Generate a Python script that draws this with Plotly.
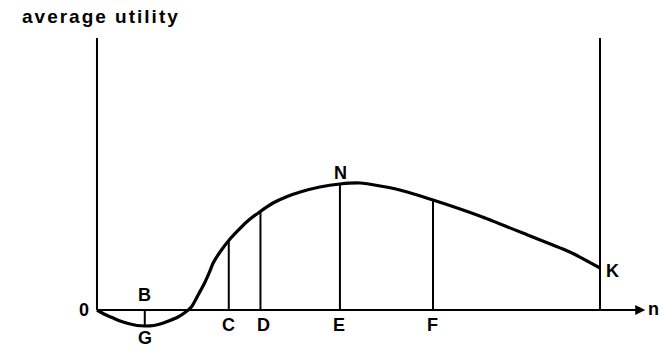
import plotly.graph_objects as go

# ---- data (arbitrary units: n along x, average utility along y) ----
curve_n = [0, 1.6, 3.0, 4.6, 6.2, 8.0, 9.5, 11.3, 12.9, 14.5, 16.1, 17.5, 18.8, 20.1,
           21.4, 22.4, 23.1, 24.5, 26.2, 27.8, 29.8, 32.4, 35.0, 37.7, 40.4, 44.3, 48.3,
           52.3, 56.3, 60.2, 66.8, 76.1, 86.1, 94.0, 100]
curve_u = [0, -1.65, -2.76, -4.04, -4.96, -5.70, -5.88, -5.70, -4.96, -3.86, -2.57,
           -0.92, 1.21, 5.51, 9.93, 14.08, 17.28, 21.43, 25.55, 28.79, 32.46, 36.14,
           39.34, 41.65, 43.38, 45.22, 46.32, 46.69, 45.59, 44.12, 40.44, 34.56, 27.21,
           21.32, 15.44]

drop_labels = ["G", "C", "D", "E", "F"]
drop_n = [9.5, 26.2, 32.5, 48.3, 66.8]
drop_u = [-5.88, 25.55, 36.3, 46.3, 40.44]

axis_top = 100
n_end = 100      # K boundary
arrow_end = 109

W, H = 660, 351

fig = go.Figure()

# vertical axes (left: utility axis, right: boundary at K)
fig.add_trace(go.Scatter(x=[0, 0, None, n_end, n_end], y=[0, axis_top, None, 0, axis_top],
                         mode="lines", line=dict(color="black", width=2), hoverinfo="skip"))
# horizontal n axis
fig.add_trace(go.Scatter(x=[0, arrow_end - 2], y=[0, 0], mode="lines",
                         line=dict(color="black", width=2), hoverinfo="skip"))

# drop lines
xs, ys = [], []
for n, u in zip(drop_n, drop_u):
    xs += [n, n, None]
    ys += [0, u, None]
fig.add_trace(go.Scatter(x=xs, y=ys, mode="lines", line=dict(color="black", width=2),
                         hoverinfo="skip"))

# curve
fig.add_trace(go.Scatter(x=curve_n, y=curve_u, mode="lines",
                         line=dict(color="black", width=3.2, shape="spline", smoothing=0.6),
                         hoverinfo="skip"))

font_lbl = dict(family="Liberation Sans, Arial, sans-serif", size=18, color="black")
ann = []
# arrow on n axis
ann.append(dict(x=arrow_end, y=0, ax=arrow_end - 4, ay=0, xref="x", yref="y",
                axref="x", ayref="y", showarrow=True, arrowhead=2, arrowsize=1,
                arrowwidth=2, arrowcolor="black", text=""))

labels = [("0", -2.6, 0), ("B", 9.5, 5.5), ("G", 9.5, -10.3), ("C", 26.2, -5.5),
          ("D", 33.2, -5.5), ("E", 48.1, -5.5), ("F", 66.8, -5.5), ("N", 48.5, 50.5),
          ("K", 102.4, 14.3), ("n", 110.6, 0.2)]
for t, x, y in labels:
    ann.append(dict(x=x, y=y, xref="x", yref="y", text="<b>%s</b>" % t, showarrow=False,
                    font=font_lbl, xanchor="center", yanchor="middle"))

ann.append(dict(x=20 / W, y=1 - 17 / H, xref="paper", yref="paper",
                text='<span style="letter-spacing:2px"><b>average utility</b></span>',
                showarrow=False, xanchor="left", yanchor="middle",
                font=dict(family="Liberation Sans, Arial, sans-serif", size=19, color="black")))

fig.update_layout(
    width=W, height=H, margin=dict(l=0, r=0, t=0, b=0),
    paper_bgcolor="white", plot_bgcolor="white", showlegend=False,
    xaxis=dict(range=[-19.28, 111.93], visible=False, fixedrange=True),
    yaxis=dict(range=[-15.07, 113.97], visible=False, fixedrange=True),
    annotations=ann,
)

fig.write_html("out.html", config={"displayModeBar": False},
               post_script="document.body.style.margin='0px';document.body.style.overflow='hidden';")
